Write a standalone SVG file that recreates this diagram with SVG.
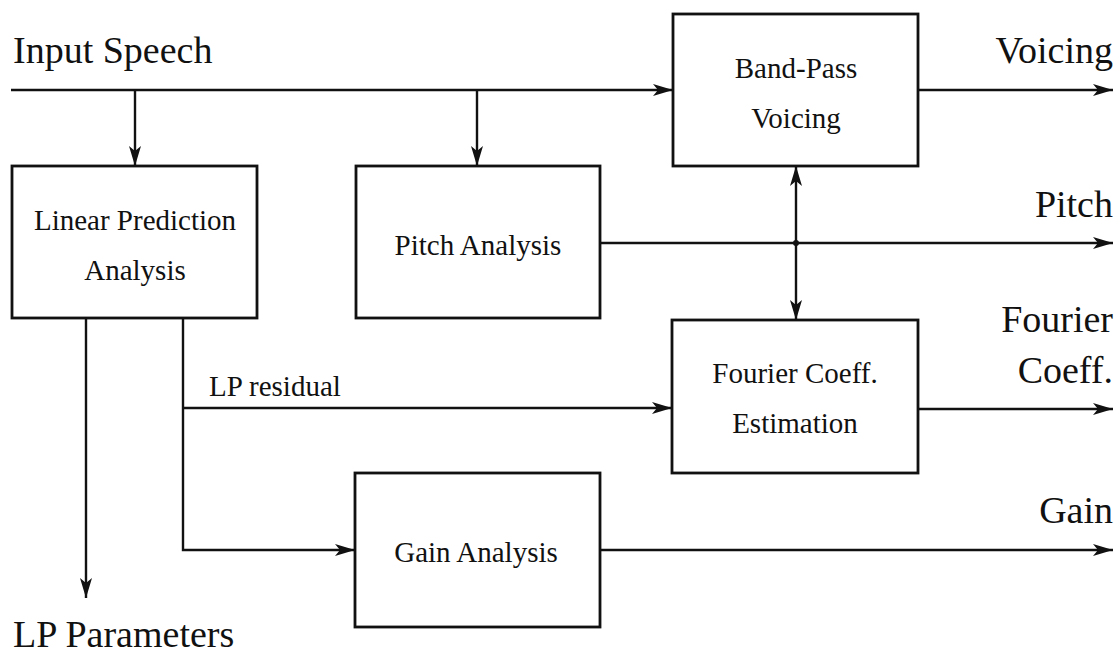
<svg xmlns="http://www.w3.org/2000/svg" width="1117" height="654" viewBox="0 0 1117 654">
  <defs>
    <style>
      .box { fill: #ffffff; stroke: #111111; stroke-width: 2.8; }
      .wire { fill: none; stroke: #111111; stroke-width: 2.4; }
      .lbl { font-family: "Liberation Serif", "Times New Roman", serif; font-size: 29px; fill: #111111; text-anchor: middle; }
      .io { font-family: "Liberation Serif", "Times New Roman", serif; font-size: 38px; fill: #111111; }
      .end { text-anchor: end; }
    </style>
    <marker id="head" viewBox="0 0 20 14" refX="20" refY="7" markerWidth="20" markerHeight="14" markerUnits="userSpaceOnUse" orient="auto-start-reverse">
      <path d="M0,1 L20,7 L0,13 L5,7 Z" fill="#111111"/>
    </marker>
  </defs>

  <rect width="1117" height="654" fill="#ffffff"/>

  <!-- connectors -->
  <g id="connectors">
    <!-- input speech bus -->
    <path class="wire" d="M11,90 H673" marker-end="url(#head)"/>
    <path class="wire" d="M135,90 V166" marker-end="url(#head)"/>
    <path class="wire" d="M477,90 V166" marker-end="url(#head)"/>
    <!-- voicing output -->
    <path class="wire" d="M918,90 H1113" marker-end="url(#head)"/>
    <!-- pitch output -->
    <path class="wire" d="M600,243 H1113" marker-end="url(#head)"/>
    <!-- band-pass voicing <-> fourier estimation -->
    <path class="wire" d="M796,166 V320" marker-start="url(#head)" marker-end="url(#head)"/>
    <circle cx="796" cy="243" r="3" fill="#111111"/>
    <!-- LP parameters -->
    <path class="wire" d="M86,318 V598" marker-end="url(#head)"/>
    <!-- LP residual -->
    <path class="wire" d="M183,318 V550 H355" marker-end="url(#head)"/>
    <path class="wire" d="M183,408 H672" marker-end="url(#head)"/>
    <!-- fourier coefficients output -->
    <path class="wire" d="M918,409 H1113" marker-end="url(#head)"/>
    <!-- gain output -->
    <path class="wire" d="M600,550 H1113" marker-end="url(#head)"/>
  </g>

  <!-- nodes -->
  <g id="band-pass-voicing">
    <rect class="box" x="673" y="14" width="245" height="152"/>
    <text class="lbl" x="796" y="78">Band-Pass</text>
    <text class="lbl" x="796" y="128">Voicing</text>
  </g>

  <g id="linear-prediction">
    <rect class="box" x="12" y="166" width="245" height="152"/>
    <text class="lbl" x="135" y="230">Linear Prediction</text>
    <text class="lbl" x="135" y="280">Analysis</text>
  </g>

  <g id="pitch-analysis">
    <rect class="box" x="356" y="166" width="244" height="152"/>
    <text class="lbl" x="478" y="255">Pitch Analysis</text>
  </g>

  <g id="fourier-estimation">
    <rect class="box" x="672" y="320" width="246" height="153"/>
    <text class="lbl" x="795" y="383">Fourier Coeff.</text>
    <text class="lbl" x="795" y="433">Estimation</text>
  </g>

  <g id="gain-analysis">
    <rect class="box" x="355" y="473" width="245" height="154"/>
    <text class="lbl" x="476" y="562">Gain Analysis</text>
  </g>

  <!-- signal labels -->
  <g id="labels">
    <text class="io" x="13" y="63">Input Speech</text>
    <text class="io" x="13" y="647">LP Parameters</text>
    <text class="lbl" x="209" y="396" style="text-anchor:start">LP residual</text>
    <text class="io end" x="1113" y="63">Voicing</text>
    <text class="io end" x="1113" y="217">Pitch</text>
    <text class="io end" x="1113" y="332">Fourier</text>
    <text class="io end" x="1113" y="383">Coeff.</text>
    <text class="io end" x="1113" y="523">Gain</text>
  </g>
</svg>
